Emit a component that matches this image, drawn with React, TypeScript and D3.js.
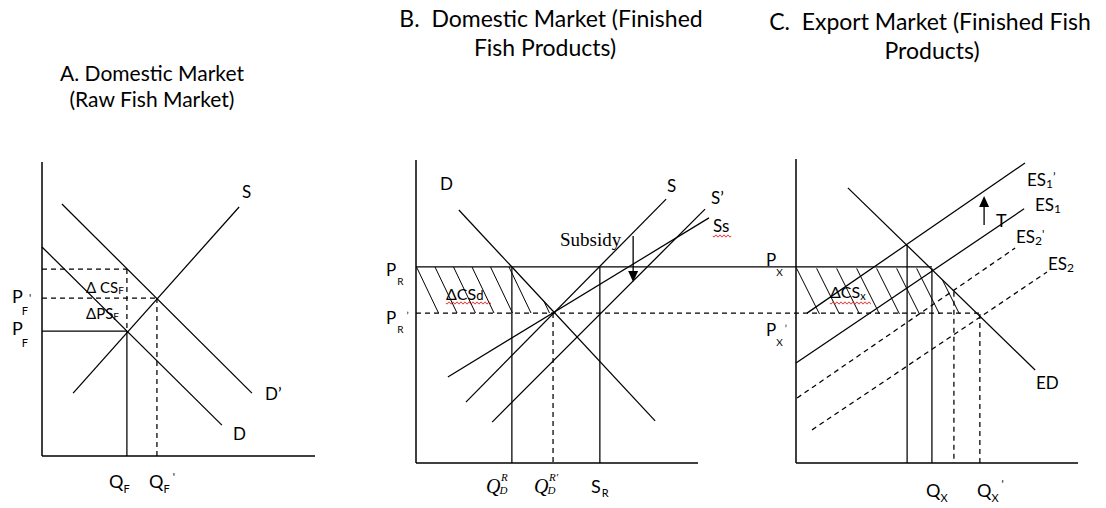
import React from "react";
import * as d3 from "d3";

type Pt = [number, number];

// ---------- A. Raw fish market (quantity, price) ----------
const rawSupply: Pt[] = [[1.14, 2.14], [7.22, 8.47]];
const rawDemand: Pt[] = [[0, 7.11], [6.59, 1.05]];
const rawDemandNew: Pt[] = [[0.73, 8.57], [7.69, 2.14]];
const rawPrices = [4.25, 5.37, 6.36]; // P_F, P_F', D' at Q_F
const rawQuantities = [3.11, 4.21]; // Q_F, Q_F'

// ---------- B. Domestic market for finished fish products ----------
const finDemand: Pt[] = [[1.52, 8.35], [8.48, 1.39]];
const finSupply: Pt[] = [[1.77, 2.01], [8.87, 8.71]];
const finSupplyNew: Pt[] = [[2.7, 1.35], [10.25, 8.38]];
const finSupplySub: Pt[] = [[1.13, 2.84], [10.39, 8.09]];
const finPrices = [6.47, 4.95]; // P_R, P_R'
const finQuantities = [3.4, 4.86, 6.52]; // Q_D^R, Q_D^R', S_R
const subsidyArrow = [7.7, 7.49, 5.97]; // q, from p, to p

// ---------- C. Export market for finished fish products ----------
const exportDemand: Pt[] = [[1.84, 9.05], [8.48, 3.06]];
const es1New: Pt[] = [[0.39, 4.93], [8.12, 9.87]];
const es1: Pt[] = [[0, 3.29], [8.09, 8.36]];
const es2New: Pt[] = [[0.04, 2.14], [7.77, 7.07]];
const es2: Pt[] = [[0.57, 1.09], [8.9, 6.28]];
const exportPrices = [6.41, 4.9]; // P_X, P_X'
const exportDrops: [number, number, boolean][] = [
  [3.94, 7.17, false],
  [4.82, 6.41, false],
  [5.6, 5.63, true],
  [6.52, 4.9, true],
];
const taxArrow = [6.67, 7.83, 8.78]; // q, from p, to p

const titleLines = [
  "A. Domestic Market",
  "(Raw Fish Market)",
  "B.  Domestic Market (Finished",
  "Fish Products)",
  "C.  Export Market (Finished Fish",
  "Products)",
];

const W = 1106;
const H = 508;
const FONT = "Lato, 'Open Sans', sans-serif";
const SERIF = "'Liberation Serif', 'DejaVu Serif', serif";

const sA = {
  x: d3.scaleLinear().domain([0, 10]).range([42, 315]),
  y: d3.scaleLinear().domain([0, 10]).range([456, 162]),
};
const sB = {
  x: d3.scaleLinear().domain([0, 10]).range([416, 698]),
  y: d3.scaleLinear().domain([0, 10]).range([463, 160]),
};
const sC = {
  x: d3.scaleLinear().domain([0, 10]).range([796, 1078]),
  y: d3.scaleLinear().domain([0, 10]).range([463, 159]),
};

type Sc = typeof sA;

const qAtPrice = (pts: Pt[], p: number) => {
  const [[q1, p1], [q2, p2]] = pts;
  return q1 + ((p - p1) * (q2 - q1)) / (p2 - p1);
};

const curve = (s: Sc, pts: Pt[]) =>
  d3
    .line<Pt>()
    .x((d) => s.x(d[0]))
    .y((d) => s.y(d[1]))(pts) || "";

const DASH = "5,4";

function Axes({ s, top }: { s: Sc; top: number }) {
  const [x0, x1] = s.x.range();
  const y0 = s.y.range()[0];
  return (
    <g stroke="#000" strokeWidth={1.5} fill="none">
      <line x1={x0} y1={top} x2={x0} y2={y0} />
      <line x1={x0} y1={y0} x2={x1} y2={y0} />
    </g>
  );
}

function Curve({ s, pts, dashed }: { s: Sc; pts: Pt[]; dashed?: boolean }) {
  return (
    <path
      d={curve(s, pts)}
      stroke="#000"
      strokeWidth={1.25}
      fill="none"
      strokeDasharray={dashed ? DASH : undefined}
    />
  );
}

function Seg({
  x1, y1, x2, y2, dashed, w = 1.25,
}: { x1: number; y1: number; x2: number; y2: number; dashed?: boolean; w?: number }) {
  return (
    <line
      x1={x1} y1={y1} x2={x2} y2={y2}
      stroke="#000" strokeWidth={w}
      strokeDasharray={dashed ? DASH : undefined}
    />
  );
}

// Diagonal hatching clipped to the consumer-surplus trapezoid
function Hatch({
  id, s, demand, pTop, pBot, step, slant,
}: { id: string; s: Sc; demand: Pt[]; pTop: number; pBot: number; step: number; slant: number }) {
  const xa = s.x(0);
  const yT = s.y(pTop);
  const yB = s.y(pBot);
  const xT = s.x(qAtPrice(demand, pTop));
  const xB = s.x(qAtPrice(demand, pBot));
  const poly = [[xa, yT], [xT, yT], [xB, yB], [xa, yB]].map((p) => p.join(",")).join(" ");
  const lines: number[] = d3.range(xa + 0.5, xB, step);
  return (
    <g>
      <defs>
        <clipPath id={id}>
          <polygon points={poly} />
        </clipPath>
      </defs>
      <g clipPath={`url(#${id})`} stroke="#000" strokeWidth={1}>
        {lines.map((t, i) => (
          <line key={i} x1={t} y1={yT} x2={t + slant} y2={yB} />
        ))}
      </g>
    </g>
  );
}

function Wavy({ x1, x2, y }: { x1: number; x2: number; y: number }) {
  const pts: [number, number][] = d3
    .range(x1, x2 + 0.01, 0.5)
    .map((x) => [x, y + 1.1 * Math.sin(((x - x1) / 4) * 2 * Math.PI)]);
  return <path d={d3.line()(pts) || ""} stroke="#e02020" strokeWidth={1} fill="none" />;
}

function Label({
  x, y, main, sub, prime, size = 18, subSize = 11, subDy = 10, subDx = 0, primeDx = 2, primeDy = -10, family = FONT, italic,
}: {
  x: number; y: number; main: string; sub?: string; prime?: string;
  size?: number; subSize?: number; subDy?: number; subDx?: number; primeDx?: number; primeDy?: number;
  family?: string; italic?: boolean;
}) {
  return (
    <text x={x} y={y} fontFamily={family} fontSize={size} fill="#000" fontStyle={italic ? "italic" : undefined}>
      <tspan>{main}</tspan>
      {sub && (
        <tspan dx={subDx} dy={subDy} fontSize={subSize}>
          {sub}
        </tspan>
      )}
      {prime && (
        <tspan dx={primeDx} dy={primeDy} fontSize={subSize}>
          {prime}
        </tspan>
      )}
    </text>
  );
}

function Arrow({ x, yFrom, yTo }: { x: number; yFrom: number; yTo: number }) {
  const dir = yTo > yFrom ? 1 : -1;
  const hl = 11;
  const hw = 5;
  return (
    <g>
      <line x1={x} y1={yFrom} x2={x} y2={yTo - dir * hl * 0.6} stroke="#000" strokeWidth={1.3} />
      <polygon
        points={`${x},${yTo} ${x - hw},${yTo - dir * hl} ${x + hw},${yTo - dir * hl}`}
        fill="#000"
      />
    </g>
  );
}

function PanelA() {
  const s = sA;
  const [pf, pf2, pd] = rawPrices;
  const [qf, qf2] = rawQuantities;
  const xa = s.x(0);
  const yb = s.y(0);
  return (
    <g>
      <Axes s={s} top={162} />
      <Curve s={s} pts={rawSupply} />
      <Curve s={s} pts={rawDemand} />
      <Curve s={s} pts={rawDemandNew} />
      <Seg x1={xa} y1={s.y(pf)} x2={s.x(qf)} y2={s.y(pf)} />
      <Seg x1={s.x(qf)} y1={s.y(pf)} x2={s.x(qf)} y2={yb} />
      <Seg x1={xa} y1={s.y(pf2)} x2={s.x(qf2)} y2={s.y(pf2)} dashed />
      <Seg x1={s.x(qf2)} y1={s.y(pf2)} x2={s.x(qf2)} y2={yb} dashed />
      <Seg x1={xa} y1={s.y(pd)} x2={s.x(qf)} y2={s.y(pd)} dashed />
      <Seg x1={s.x(qf)} y1={s.y(pd)} x2={s.x(qf)} y2={s.y(pf)} dashed />

      <text x={242} y={198} fontFamily={FONT} fontSize={17}>S</text>
      <text x={265} y={400} fontFamily={FONT} fontSize={17}>D’</text>
      <text x={233} y={440} fontFamily={FONT} fontSize={17}>D</text>
      <text x={86} y={293} fontFamily={FONT} fontSize={15}>
        Δ CS<tspan fontSize={10} dy={1}>F</tspan>
      </text>
      <text x={86} y={319} fontFamily={FONT} fontSize={15}>
        ΔPS<tspan fontSize={10} dy={1}>F</tspan>
      </text>

      <Label x={12} y={303} main="P" sub="F" prime="'" size={18} subDx={-1} subDy={12} primeDx={1} primeDy={-13} />
      <Label x={12} y={335} main="P" sub="F" size={18} subDx={-1} subDy={12} />
      <Label x={109} y={488} main="Q" sub="F" size={18} subDx={0} subDy={5} />
      <Label x={149} y={488} main="Q" sub="F" prime="'" size={18} subDx={0} subDy={5} primeDx={3} primeDy={-12} />
    </g>
  );
}

function PanelB() {
  const s = sB;
  const [pr, pr2] = finPrices;
  const [qd, qd2, sr] = finQuantities;
  const xa = s.x(0);
  const yb = s.y(0);
  const [qa, pa0, pa1] = subsidyArrow;
  return (
    <g>
      <Hatch id="hatchB" s={s} demand={finDemand} pTop={pr} pBot={pr2} step={18.5} slant={22} />
      <Axes s={s} top={160} />
      <Curve s={s} pts={finDemand} />
      <Curve s={s} pts={finSupply} />
      <Curve s={s} pts={finSupplyNew} />
      <Curve s={s} pts={finSupplySub} />
      {/* world price lines run across into the export panel */}
      <Seg x1={xa} y1={s.y(pr)} x2={sC.x(exportDrops[1][0])} y2={s.y(pr)} />
      <Seg x1={xa} y1={s.y(pr2)} x2={sC.x(exportDrops[3][0])} y2={s.y(pr2)} dashed />
      <Seg x1={s.x(qd)} y1={s.y(pr)} x2={s.x(qd)} y2={yb} />
      <Seg x1={s.x(sr)} y1={s.y(pr)} x2={s.x(sr)} y2={yb} />
      <Seg x1={s.x(qd2)} y1={s.y(pr2)} x2={s.x(qd2)} y2={yb} dashed />
      <Arrow x={s.x(qa)} yFrom={s.y(pa0)} yTo={s.y(pa1)} />

      <text x={560} y={246} fontFamily={SERIF} fontSize={19}>Subsidy</text>
      <text x={440} y={190} fontFamily={FONT} fontSize={17}>D</text>
      <text x={667} y={192} fontFamily={FONT} fontSize={17}>S</text>
      <text x={711} y={204} fontFamily={FONT} fontSize={17}>S’</text>
      <text x={713} y={232} fontFamily={FONT} fontSize={17}>Ss</text>
      <Wavy x1={713} x2={731} y={236} />
      <text x={446} y={300} fontFamily={FONT} fontSize={16}>
        ΔCS<tspan fontSize={13}>d</tspan>
      </text>
      <Wavy x1={446} x2={491} y={303} />

      <Label x={386} y={276} main="P" sub="R" size={17} subSize={10} subDx={1} subDy={9} />
      <Label x={386} y={324} main="P" sub="R" prime="’" size={17} subSize={10} subDx={1} subDy={9} primeDx={3} primeDy={-14} />
      <Label x={486} y={493} main="Q" sub="D" size={20} subSize={11} subDx={-1} subDy={1} family={SERIF} italic />
      <text x={501} y={481} fontFamily={SERIF} fontStyle="italic" fontSize={11}>R</text>
      <Label x={534} y={493} main="Q" sub="D" size={20} subSize={11} subDx={-1} subDy={1} family={SERIF} italic />
      <text x={549} y={481} fontFamily={SERIF} fontStyle="italic" fontSize={11}>R′</text>
      <Label x={591} y={493} main="S" sub="R" size={18} subSize={11} subDx={1} subDy={4} />
    </g>
  );
}

function PanelC() {
  const s = sC;
  const [px, px2] = exportPrices;
  const yb = s.y(0);
  const [qt, pt0, pt1] = taxArrow;
  return (
    <g>
      <Hatch id="hatchC" s={s} demand={exportDemand} pTop={px} pBot={px2} step={20} slant={23} />
      <Axes s={s} top={159} />
      <Curve s={s} pts={exportDemand} />
      <Curve s={s} pts={es1New} />
      <Curve s={s} pts={es1} />
      <Curve s={s} pts={es2New} dashed />
      <Curve s={s} pts={es2} dashed />
      {exportDrops.map(([q, p, dashed], i) => (
        <Seg key={i} x1={s.x(q)} y1={s.y(p)} x2={s.x(q)} y2={yb} dashed={dashed} />
      ))}
      <Arrow x={s.x(qt)} yFrom={s.y(pt0)} yTo={s.y(pt1)} />

      <text x={996} y={227} fontFamily={FONT} fontSize={18}>T</text>
      <text x={1036} y={389} fontFamily={FONT} fontSize={17}>ED</text>
      <Label x={1027} y={186} main="ES" sub="1" prime="’" size={17} subSize={12} subDy={2} primeDx={0} primeDy={-7} />
      <Label x={1035} y={211} main="ES" sub="1" size={17} subSize={12} subDy={2} />
      <Label x={1016} y={243} main="ES" sub="2" prime="'" size={17} subSize={12} subDy={2} primeDx={0} primeDy={-7} />
      <Label x={1048} y={270} main="ES" sub="2" size={17} subSize={12} subDy={2} />
      <text x={830} y={298} fontFamily={FONT} fontSize={16}>
        ΔCS<tspan fontSize={11} dy={2}>x</tspan>
      </text>
      <Wavy x1={830} x2={871} y={303} />

      <Label x={766} y={266} main="P" sub="X" size={17} subSize={10} subDx={0} subDy={10} />
      <Label x={766} y={336} main="P" sub="X" prime="’" size={17} subSize={10} subDx={0} subDy={10} primeDx={2} primeDy={-14} />
      <Label x={926} y={497} main="Q" sub="X" size={18} subSize={11} subDx={0} subDy={5} />
      <Label x={977} y={497} main="Q" sub="X" prime="'" size={18} subSize={11} subDx={0} subDy={5} primeDx={3} primeDy={-14} />
    </g>
  );
}

function Titles() {
  const sizes = [21, 21, 23, 23, 23, 23];
  const pos: [number, number][] = [
    [152, 81],
    [152, 107],
    [551, 27],
    [545, 56],
    [930, 30],
    [932, 59],
  ];
  return (
    <g>
      {titleLines.map((line, i) => (
        <text
          key={i}
          x={pos[i][0]}
          y={pos[i][1]}
          fontFamily={FONT}
          fontSize={sizes[i]}
          textAnchor="middle"
          fill="#000"
          style={{ whiteSpace: "pre" }}
        >
          {line}
        </text>
      ))}
    </g>
  );
}

export default function App() {
  return (
    <svg
      width={W}
      height={H}
      viewBox={`0 0 ${W} ${H}`}
      style={{ position: "absolute", left: 0, top: 0, background: "#fff" }}
    >
      <rect width={W} height={H} fill="#fff" />
      <Titles />
      <PanelA />
      <PanelB />
      <PanelC />
    </svg>
  );
}
